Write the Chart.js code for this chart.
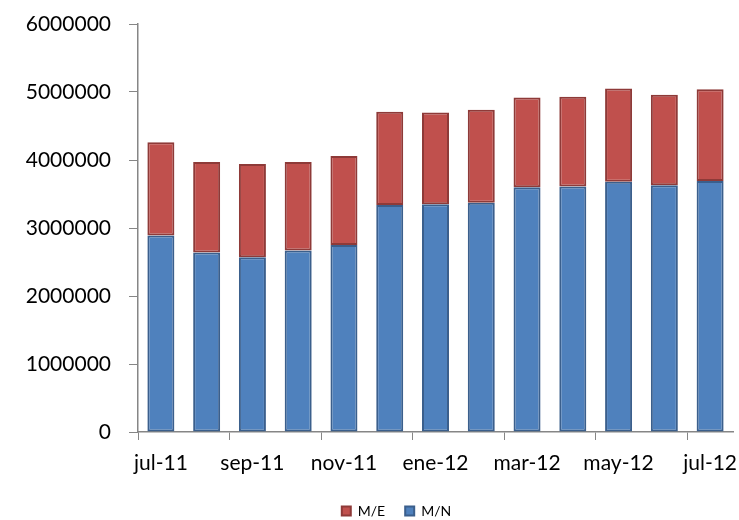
<!DOCTYPE html>
<html lang="es">
<head>
  <meta charset="UTF-8" />
  <title>M/N y M/E</title>
  <script src="https://cdn.jsdelivr.net/npm/chart.js"></script>
  <style>
    html, body { margin: 0; padding: 0; background: #fff; }
    #wrap { width: 739px; height: 520px; }
  </style>
</head>
<body>
<div id="wrap"><canvas id="chart" width="739" height="520"></canvas></div>
<script>
  const months = ['jul-11', 'ago-11', 'sep-11', 'oct-11', 'nov-11', 'dic-11', 'ene-12',
                  'feb-12', 'mar-12', 'abr-12', 'may-12', 'jun-12', 'jul-12'];
  const mn = [2890000, 2640000, 2570000, 2670000, 2750000, 3340000, 3350000,
              3370000, 3600000, 3610000, 3680000, 3630000, 3690000];
  const me = [1370000, 1330000, 1370000, 1300000, 1310000, 1370000, 1350000,
              1370000, 1320000, 1320000, 1370000, 1330000, 1350000];
  const yTicks = [0, 1000000, 2000000, 3000000, 4000000, 5000000, 6000000];

  const axisGray = '#868686';
  const font = 'Lato, "Open Sans", sans-serif';

  // nudge the legend to where the original sits (right of centre, near the bottom)
  const moveLegend = {
    id: 'moveLegend',
    afterLayout(chart) {
      const lg = chart.legend;
      lg.left += 30; lg.right += 30;
      lg.top += 8; lg.bottom += 8;
    }
  };

  new Chart(document.getElementById('chart'), {
    type: 'bar',
    data: {
      labels: months,
      datasets: [
        { label: 'M/N', data: mn, backgroundColor: '#4F81BD', borderColor: '#3B5F8C', borderWidth: 2, borderSkipped: false },
        { label: 'M/E', data: me, backgroundColor: '#C0504D', borderColor: '#8E3A38', borderWidth: 2, borderSkipped: false }
      ]
    },
    plugins: [moveLegend],
    options: {
      responsive: false,
      animation: false,
      layout: { padding: { left: 0, top: 24, right: 6, bottom: 0 } },
      datasets: { bar: { categoryPercentage: 1, barPercentage: 0.59 } },
      plugins: {
        tooltip: { enabled: false },
        legend: {
          position: 'bottom',
          reverse: true,
          labels: { boxWidth: 9, boxHeight: 9, padding: 20, color: '#000', font: { family: font, size: 14 } }
        }
      },
      scales: {
        x: {
          stacked: true,
          offset: true,
          border: { display: true, color: axisGray, width: 1.5 },
          grid: {
            offset: true,
            drawOnChartArea: false,
            drawTicks: true,
            tickLength: 8,
            color: ctx => (ctx.index % 2 === 0 ? axisGray : 'rgba(0,0,0,0)')
          },
          ticks: {
            autoSkip: false,
            maxRotation: 0,
            padding: 11,
            color: '#000',
            font: { family: font, size: 21 },
            callback: (v, i) => (i % 2 === 0 ? months[i] : '')
          },
          afterFit: s => { s.height = 44; s.paddingLeft = 0; s.paddingRight = 0; }
        },
        y: {
          stacked: true,
          min: 0,
          max: 6000000,
          afterBuildTicks: s => { s.ticks = yTicks.map(v => ({ value: v })); },
          border: { display: true, color: axisGray, width: 1.5 },
          grid: { drawOnChartArea: false, drawTicks: true, tickLength: 9, color: axisGray },
          ticks: {
            padding: 18,
            color: '#000',
            font: { family: font, size: 21 },
            callback: v => String(v)
          },
          afterFit: s => { s.width = 138; s.paddingTop = 0; s.paddingBottom = 0; }
        }
      }
    }
  });
</script>
</body>
</html>
